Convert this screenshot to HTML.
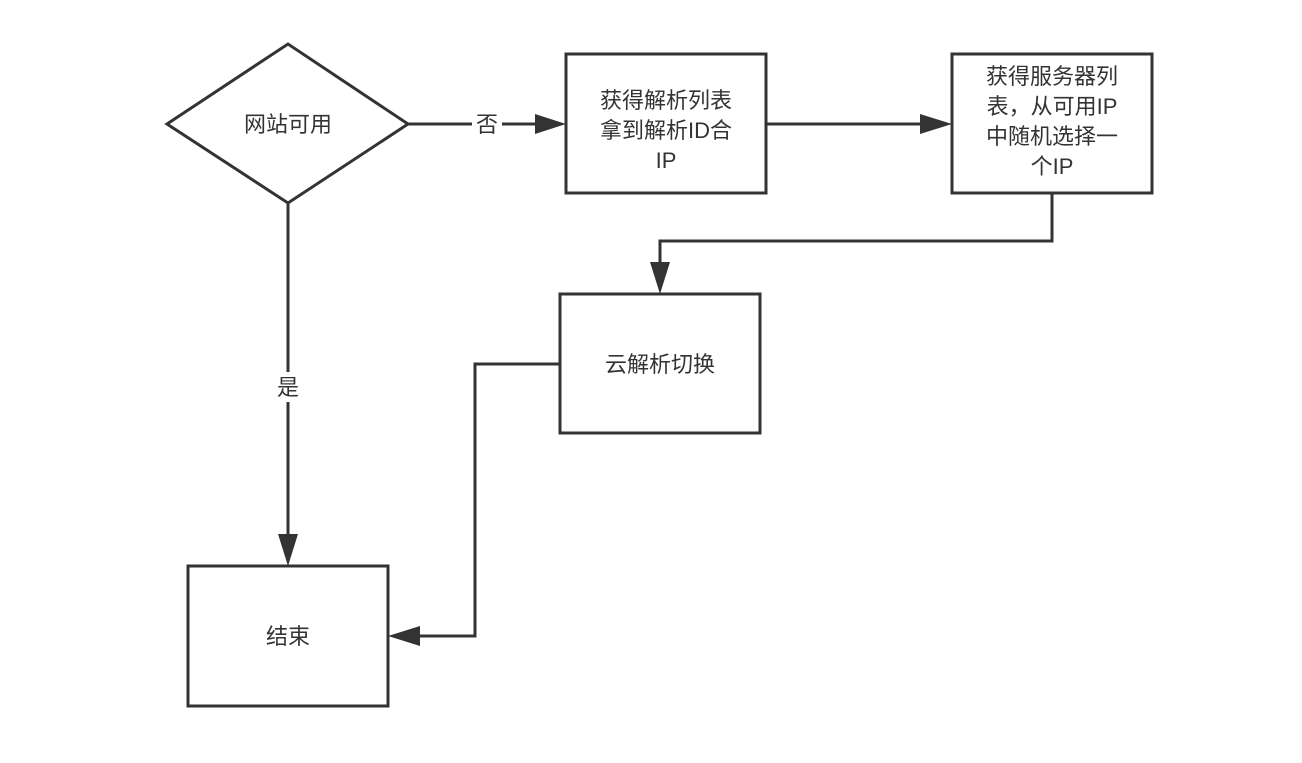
<!DOCTYPE html>
<html><head><meta charset="utf-8"><style>
html,body{margin:0;padding:0;background:#fff;}
svg text{font-family:"Liberation Sans","Noto Sans CJK SC",sans-serif;font-size:22px;fill:#333;}
</style></head><body>
<svg width="1302" height="758" viewBox="0 0 1302 758" xmlns="http://www.w3.org/2000/svg">
<g stroke="#333" stroke-width="3" fill="none">
<polygon points="167,124 288,44 408,124 288,203" fill="#fff"/>
<rect x="566" y="54" width="200" height="139"/>
<rect x="952" y="54" width="200" height="139"/>
<rect x="560" y="294" width="200" height="139"/>
<rect x="188" y="566" width="200" height="140"/>
<line x1="408" y1="124" x2="540" y2="124"/>
<line x1="766" y1="124" x2="925" y2="124"/>
<polyline points="1052,193 1052,241 660,241 660,268"/>
<polyline points="560,364 475,364 475,636 415,636"/>
<line x1="288" y1="203" x2="288" y2="540"/>
</g>
<g fill="#333">
<polygon points="535,114 566,124 535,134"/>
<polygon points="920,114 952,124 920,134"/>
<polygon points="650,262 660,294 670,262"/>
<polygon points="278,534 288,566 298,534"/>
<polygon points="420,626 388,636 420,646"/>
</g>
<rect x="472" y="110" width="30" height="28" fill="#fff"/>
<rect x="274" y="372" width="28" height="30" fill="#fff"/>
<text x="487" y="132" text-anchor="middle">否</text>
<text x="288" y="395" text-anchor="middle">是</text>
<text x="288" y="132" text-anchor="middle">网站可用</text>
<text x="666" y="108" text-anchor="middle">获得解析列表</text>
<text x="666" y="138" text-anchor="middle">拿到解析ID合</text>
<text x="666" y="168" text-anchor="middle">IP</text>
<text x="1052" y="84" text-anchor="middle">获得服务器列</text>
<text x="1052" y="114" text-anchor="middle">表，从可用IP</text>
<text x="1052" y="144" text-anchor="middle">中随机选择一</text>
<text x="1052" y="174" text-anchor="middle">个IP</text>
<text x="660" y="372" text-anchor="middle">云解析切换</text>
<text x="288" y="644" text-anchor="middle">结束</text>
</svg>
</body></html>
